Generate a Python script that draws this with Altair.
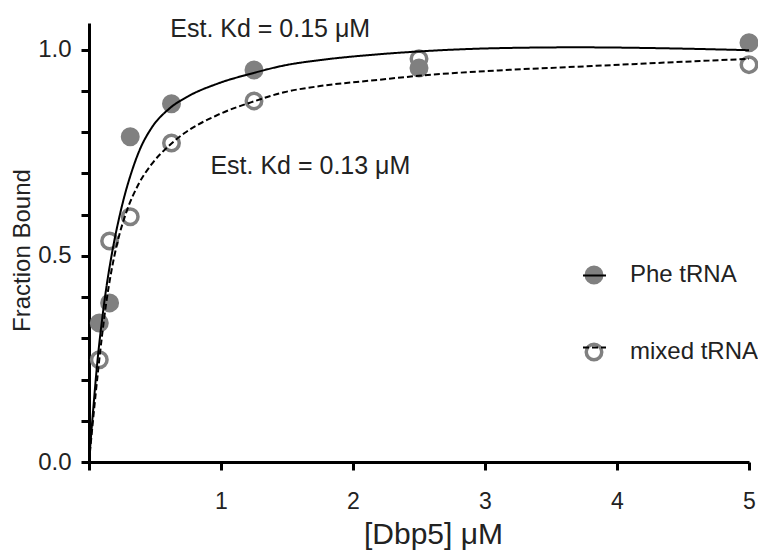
import altair as alt
import pandas as pd

# ---- data ----
SERIES = ["Phe tRNA", "mixed tRNA"]
CURVES = ["Phe tRNA fit", "mixed tRNA fit"]
CONC = [0.078, 0.156, 0.3125, 0.625, 1.25, 2.5, 5]
PHE_BOUND = [0.337, 0.386, 0.789, 0.869, 0.951, 0.956, 1.017]
MIXED_BOUND = [0.248, 0.536, 0.595, 0.774, 0.876, 0.978, 0.964]

PHE_FIT_X = [0, 0.03, 0.064, 0.096, 0.13, 0.165, 0.2, 0.234, 0.271, 0.322, 0.385,
             0.473, 0.611, 0.75, 0.975, 1.25, 1.478, 1.75, 2.19, 2.5, 3.1, 3.7, 4.3, 5]
PHE_FIT_Y = [0, 0.12, 0.245, 0.337, 0.42, 0.49, 0.55, 0.600, 0.648, 0.703, 0.758,
             0.810, 0.858, 0.887, 0.918, 0.944, 0.962, 0.975, 0.989, 0.996, 1.004, 1.006, 1.004, 0.999]
MIX_FIT_X = [0, 0.03, 0.07, 0.1, 0.13, 0.165, 0.221, 0.284, 0.372, 0.473, 0.598,
             0.724, 0.975, 1.25, 1.478, 1.75, 2.19, 2.5, 3.1, 3.7, 4.3, 5]
MIX_FIT_Y = [0, 0.10, 0.225, 0.31, 0.385, 0.455, 0.54, 0.607, 0.672, 0.722, 0.765,
             0.798, 0.842, 0.875, 0.897, 0.912, 0.927, 0.937, 0.950, 0.959, 0.968, 0.978]

KD_LABELS = ["Est. Kd = 0.15 \u03bcM", "Est. Kd = 0.13 \u03bcM"]
KD_X = [1.373, 1.677]
KD_Y = [1.032, 0.698]

Y_TICKS = [round(i * 0.05, 2) for i in range(22)]
X_TICKS = [0, 1, 2, 3, 4, 5]

FONT = "Liberation Sans"
TXT = "#222222"
GRAY = "#808080"

# ---- tables ----
pts = pd.DataFrame({
    "series": [SERIES[1]] * len(CONC) + [SERIES[0]] * len(CONC),
    "x": CONC + CONC,
    "y": MIXED_BOUND + PHE_BOUND,
})
fits = pd.DataFrame({
    "curve": [CURVES[0]] * len(PHE_FIT_X) + [CURVES[1]] * len(MIX_FIT_X),
    "x": PHE_FIT_X + MIX_FIT_X,
    "y": PHE_FIT_Y + MIX_FIT_Y,
})
ann = pd.DataFrame({"label": KD_LABELS, "x": KD_X, "y": KD_Y})

xscale = alt.Scale(domain=[0, 5], nice=False, zero=True)
yscale = alt.Scale(domain=[0, 1.065], nice=False, zero=True)

xaxis = alt.Axis(
    values=X_TICKS, labelExpr="datum.value == 0 ? '' : format(datum.value, 'd')",
    domainWidth=3, domainColor="black", ticks=True, tickWidth=3, tickColor="black",
    tickSize=8, tickOpacity=1,
    labelFont=FONT, labelFontSize=23, labelColor=TXT, labelPadding=20,
    labelFlush=False, labelOverlap=False, grid=False,
    title="[Dbp5] \u03bcM", titleFont=FONT, titleFontSize=30, titleFontWeight="normal",
    titleColor=TXT, titleX=344, titleY=81, titleBaseline="alphabetic",
)
yaxis = alt.Axis(
    values=Y_TICKS,
    labelExpr="datum.value % 0.5 == 0 ? format(datum.value, '.1f') : ''",
    domainWidth=3, domainColor="black", ticks=True, tickWidth=3, tickColor="black",
    tickSize=8, tickOpacity=1,
    labelFont=FONT, labelFontSize=24, labelColor=TXT, labelPadding=10,
    labelFlush=False, labelOverlap=False, grid=False,
    title="Fraction Bound", titleFont=FONT, titleFontSize=24, titleFontWeight="normal",
    titleColor=TXT, titleX=-67, titleY=227, titleBaseline="middle", titleAngle=270,
)

points = alt.Chart(pts).mark_circle(
    size=240, stroke=GRAY, strokeWidth=3.5, opacity=1, clip=False
).encode(
    x=alt.X("x:Q", scale=xscale, axis=xaxis),
    y=alt.Y("y:Q", scale=yscale, axis=yaxis),
    fill=alt.Fill(
        "series:N",
        scale=alt.Scale(domain=SERIES, range=[GRAY, "transparent"]),
        legend=alt.Legend(
            title=None, orient="none", legendX=493, legendY=240, padding=0,
            symbolType="circle", symbolSize=240, symbolStrokeWidth=3.5,
            symbolStrokeColor=GRAY, symbolOpacity=1,
            labelFont=FONT, labelFontSize=24, labelColor=TXT, labelOffset=24,
            rowPadding=47, zindex=1,
        ),
    ),
)

lines = alt.Chart(fits).mark_line(
    color="black", strokeWidth=2, interpolate="monotone", clip=False
).encode(
    x=alt.X("x:Q", scale=xscale),
    y=alt.Y("y:Q", scale=yscale),
    strokeDash=alt.StrokeDash(
        "curve:N",
        scale=alt.Scale(domain=CURVES, range=[[1, 0], [6, 3]]),
        legend=alt.Legend(
            title=None, orient="none", legendX=493, legendY=240, padding=0,
            symbolType="stroke", symbolSize=529, symbolStrokeWidth=2,
            symbolStrokeColor="black", symbolOpacity=1,
            labelFont=FONT, labelFontSize=24, labelColor=TXT, labelOpacity=0,
            labelOffset=24, rowPadding=47, zindex=2,
        ),
    ),
)

text = alt.Chart(ann).mark_text(
    font=FONT, fontSize=25, color=TXT, align="center", baseline="alphabetic"
).encode(
    x=alt.X("x:Q", scale=xscale),
    y=alt.Y("y:Q", scale=yscale),
    text="label:N",
)

chart = alt.layer(points, lines, text).properties(
    width=660, height=439,
    padding={"left": 81, "top": 15, "right": 9, "bottom": 89},
    autosize=alt.AutoSizeParams(type="none"),
    background="white",
).configure_view(stroke=None)

chart.save("out.html", embed_options={"renderer": "svg", "actions": False})
